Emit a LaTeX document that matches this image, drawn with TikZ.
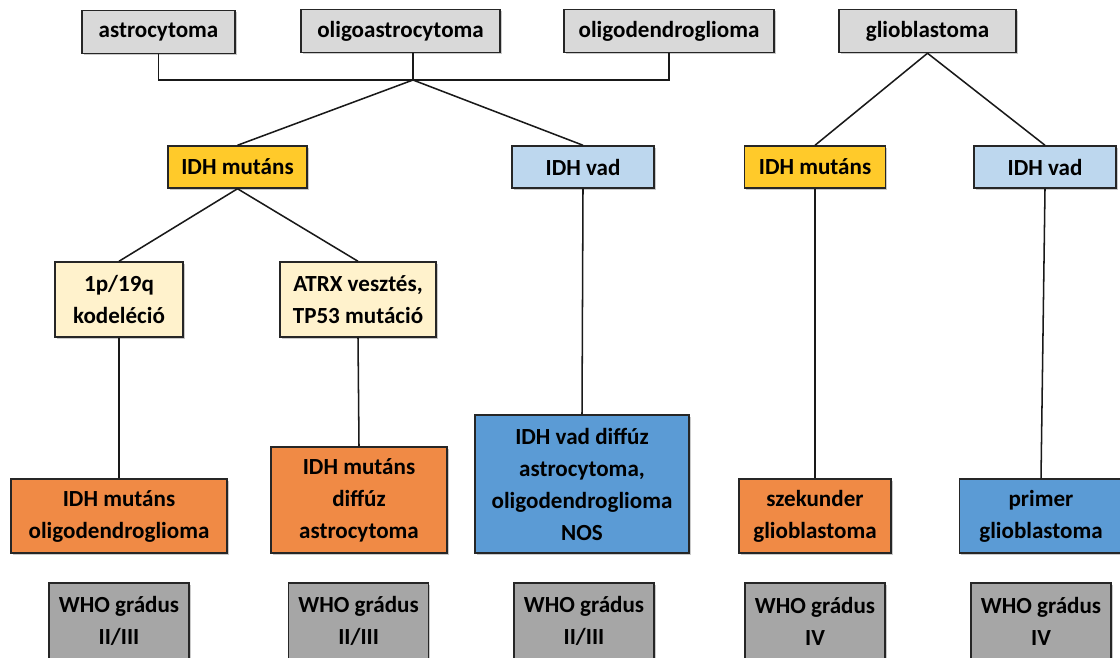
\documentclass[tikz,border=0pt]{standalone}
\usepackage{fontspec}
\setmainfont{Carlito}
\usetikzlibrary{shadows}

\definecolor{topgray}{HTML}{D9D9D9}
\definecolor{mutgold}{HTML}{FFCA2A}
\definecolor{vadblue}{HTML}{BDD7EE}
\definecolor{cream}{HTML}{FFF2CC}
\definecolor{tumorange}{HTML}{F08A45}
\definecolor{tumblue}{HTML}{5B9BD5}
\definecolor{whogray}{HTML}{A6A6A6}

\tikzset{
  box/.style={draw=black!85, line width=1.1pt, align=center, inner sep=2pt,
    font=\bfseries\fontsize{17.3}{24}\selectfont,
    drop shadow={shadow xshift=1.2pt, shadow yshift=-1.2pt, opacity=0.35, fill=black!60}},
  link/.style={line width=1.15pt, black!90},
}

\begin{document}
\begin{tikzpicture}[x=0.75pt,y=-0.75pt]
  \useasboundingbox (0,0) rectangle (1120,657);
  \clip (0,0) rectangle (1120,657);
  % top row
  \node[box, fill=topgray, minimum width=153*0.75pt, minimum height=43*0.75pt] (astro) at (158.5,32) {astrocytoma};
  \node[box, fill=topgray, minimum width=199*0.75pt, minimum height=43*0.75pt] (oligoastro) at (400.5,31) {oligoastrocytoma};
  \node[box, fill=topgray, minimum width=210*0.75pt, minimum height=43*0.75pt] (oligodendro) at (669,31) {oligodendroglioma};
  \node[box, fill=topgray, minimum width=177*0.75pt, minimum height=43*0.75pt] (glio) at (927.5,31) {glioblastoma};
  % IDH status
  \node[box, fill=mutgold, minimum width=139*0.75pt, minimum height=42*0.75pt] (mutA) at (237.5,167) {IDH mutáns};
  \node[box, fill=vadblue, minimum width=142*0.75pt, minimum height=42*0.75pt] (vadA) at (583,167) {IDH vad};
  \node[box, fill=mutgold, minimum width=141*0.75pt, minimum height=42*0.75pt] (mutB) at (815,167) {IDH mutáns};
  \node[box, fill=vadblue, minimum width=142*0.75pt, minimum height=42*0.75pt] (vadB) at (1045,167) {IDH vad};
  % molecular markers
  \node[box, fill=cream, minimum width=128*0.75pt, minimum height=75*0.75pt] (codel) at (119,299.5) {1p/19q\\kodeléció};
  \node[box, fill=cream, minimum width=156*0.75pt, minimum height=75*0.75pt] (atrx) at (358,299.5) {ATRX vesztés,\\TP53 mutáció};
  % tumour types
  \node[box, fill=tumorange, minimum width=216*0.75pt, minimum height=74*0.75pt] (oligo) at (119,516) {IDH mutáns\\oligodendroglioma};
  \node[box, fill=tumorange, minimum width=176*0.75pt, minimum height=106*0.75pt] (diffastro) at (359,500) {IDH mutáns\\diffúz\\astrocytoma};
  \node[box, fill=tumblue, minimum width=214*0.75pt, minimum height=138*0.75pt] (nos) at (582,484) {IDH vad diffúz\\astrocytoma,\\oligodendroglioma\\NOS};
  \node[box, fill=tumorange, minimum width=152*0.75pt, minimum height=74*0.75pt] (szek) at (815,516) {szekunder\\glioblastoma};
  \node[box, fill=tumblue, minimum width=163*0.75pt, minimum height=74*0.75pt] (primer) at (1041,516) {primer\\glioblastoma};
  % WHO grades
  \foreach \i/\x/\g in {1/119/II\slash III, 2/358.6/II\slash III, 3/584/II\slash III, 4/815/IV, 5/1041/IV}
    \node[box, fill=whogray, minimum width=140*0.75pt, minimum height=76*0.75pt] (who\i) at (\x,621) {WHO grádus\\\g};
  % connectors
  \coordinate (join) at (413,80);
  \draw[link] (astro.south) |- (join) -| (oligodendro.south);
  \draw[link] (join) -- (join |- oligoastro.south);
  \draw[link] (join) -- (mutA.north);
  \draw[link] (join) -- (vadA.north);
  \draw[link] (glio.south) -- (mutB.north);
  \draw[link] (glio.south) -- (vadB.north);
  \draw[link] (mutA.south) -- (codel.north);
  \draw[link] (mutA.south) -- (atrx.north);
  \draw[link] (codel.south) -- (oligo.north);
  \draw[link] (atrx.south) -- (diffastro.north);
  \draw[link] (vadA.south) -- (nos.north);
  \draw[link] (mutB.south) -- (szek.north);
  \draw[link] (vadB.south) -- (primer.north);
\end{tikzpicture}
\end{document}
